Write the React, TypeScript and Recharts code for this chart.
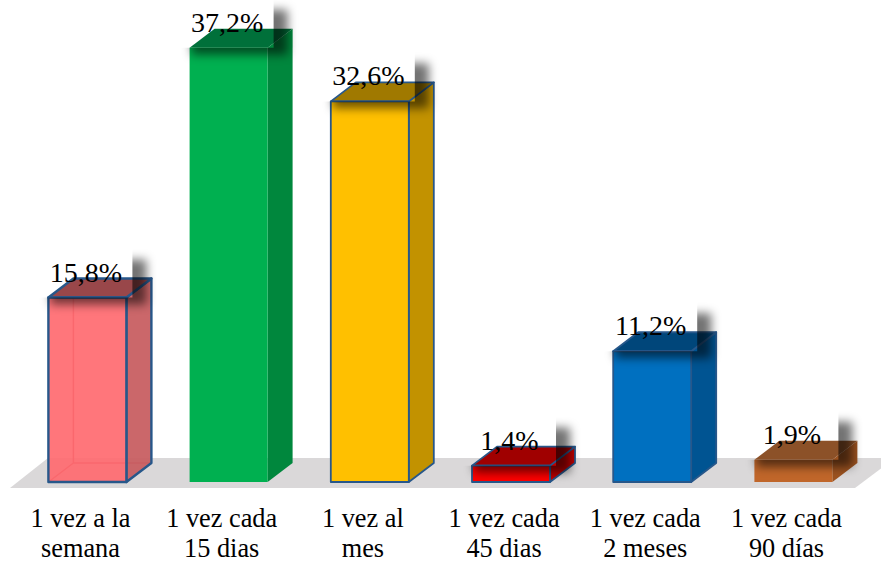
import { BarChart, Bar, XAxis, YAxis, LabelList, ReferenceArea } from 'recharts';

const categories = ['1 vez a la semana', '1 vez cada 15 dias', '1 vez al mes', '1 vez cada 45 dias', '1 vez cada 2 meses', '1 vez cada 90 días'];
const firstLines = ['1 vez a la', '1 vez cada', '1 vez al', '1 vez cada', '1 vez cada', '1 vez cada'];
const secondLines = ['semana', '15 dias', 'mes', '45 dias', '2 meses', '90 días'];
const percentages = [15.8, 37.2, 32.6, 1.4, 11.2, 1.9];

const frontColors = ['#FF6A70', '#00B050', '#FFC000', '#FF0000', '#0070C0', '#C0662A'];
const sideColors = ['#C85F62', '#00873D', '#C29200', '#C00000', '#005492', '#9B5220'];
const topColors = ['#99474A', '#00703A', '#A07900', '#A00000', '#00467A', '#8C5128'];
const outlined = [true, false, true, true, true, false];

const data = categories.map((name, i) => ({ name, value: percentages[i] }));

const DEPTH_X = 25;
const DEPTH_Y = 19;
const EDGE = '#27578A';
const FONT = '"Liberation Serif", "Times New Roman", serif';

// Extruded box: side and top faces are offset from the front rectangle
const BoxBar = (props: any) => {
  const { x, y, width, height, index } = props;
  const right = x + width;
  const bottom = y + height;
  const stroke = outlined[index] ? EDGE : 'none';
  const strokeWidth = index === 0 ? 2.4 : 1.8;
  const seeThrough = index === 0;
  return (
    <g strokeLinejoin="round">
      {seeThrough && (
        <path
          d={`M${x + DEPTH_X} ${y - DEPTH_Y}V${bottom - DEPTH_Y}H${right + DEPTH_X}M${x + DEPTH_X} ${bottom - DEPTH_Y}L${x} ${bottom}`}
          fill="none"
          stroke="#B8474C"
          strokeWidth={1.5}
        />
      )}
      <polygon
        points={`${right},${y} ${right + DEPTH_X},${y - DEPTH_Y} ${right + DEPTH_X},${bottom - DEPTH_Y} ${right},${bottom}`}
        fill={sideColors[index]}
        fillOpacity={seeThrough ? 0.95 : 1}
        stroke={stroke}
        strokeWidth={strokeWidth}
      />
      <polygon
        points={`${x},${y} ${x + DEPTH_X},${y - DEPTH_Y} ${right + DEPTH_X},${y - DEPTH_Y} ${right},${y}`}
        fill={topColors[index]}
        stroke={stroke}
        strokeWidth={strokeWidth}
      />
      <rect
        x={x}
        y={y}
        width={width}
        height={height}
        fill={frontColors[index]}
        fillOpacity={seeThrough ? 0.92 : 1}
        stroke={stroke}
        strokeWidth={strokeWidth}
      />
    </g>
  );
};

// Value text with the soft shadow its text box casts; the box itself stays clear
const ValueLabel = (props: any) => {
  const { x, y, width, index } = props;
  const boxRight = x + 84;
  const boxTop = y - 41;
  const clipId = `label-shadow-${index}`;
  const outside = `M${x - 20} ${boxTop - 20}H${boxRight + 40}V${y + 30}H${x - 20}Z M${x - 20} ${boxTop - 20}V${y}H${boxRight}V${boxTop - 20}Z`;
  return (
    <g>
      <clipPath id={clipId}>
        <path d={outside} clipRule="evenodd" />
      </clipPath>
      <g clipPath={`url(#${clipId})`}>
        <rect
          x={x + 2}
          y={boxTop + 3}
          width={96}
          height={45}
          fill="#000"
          fillOpacity={0.55}
          style={{ filter: 'blur(5px)' }}
        />
      </g>
      <text
        x={x + width / 2 - 1.5}
        y={y - 16}
        textAnchor="middle"
        fontFamily={FONT}
        fontSize={28}
        fill="#000"
      >
        {`${percentages[index].toFixed(1).replace('.', ',')}%`}
      </text>
    </g>
  );
};

const CategoryTick = (props: any) => {
  const { x, index } = props;
  return (
    <text textAnchor="middle" fontFamily={FONT} fontSize={26.3} fill="#000">
      <tspan x={x - 6.5} y={527}>{firstLines[index]}</tspan>
      <tspan x={x - 6.5} y={557}>{secondLines[index]}</tspan>
    </text>
  );
};

// Grey floor the boxes stand on, running off the right edge
const Floor = () => (
  <polygon points="10,488 48,458 895,458 855,488" fill="#DAD8D9" />
);

const App = () => (
  <div style={{ position: 'absolute', left: 0, top: 0, width: 881, height: 564, overflow: 'hidden', background: '#fff' }}>
    <BarChart
      width={881}
      height={564}
      data={data}
      margin={{ top: 15, right: 17.4, bottom: 0, left: 16.4 }}
      barSize={78}
    >
      <XAxis dataKey="name" axisLine={false} tickLine={false} interval={0} height={82} tick={<CategoryTick />} />
      <YAxis hide domain={[0, 40]} />
      <ReferenceArea x1={categories[0]} x2={categories[5]} y1={0} y2={2} ifOverflow="visible" shape={<Floor />} />
      <Bar dataKey="value" shape={<BoxBar />} isAnimationActive={false}>
        <LabelList dataKey="value" content={<ValueLabel />} />
      </Bar>
    </BarChart>
  </div>
);

export default App;
